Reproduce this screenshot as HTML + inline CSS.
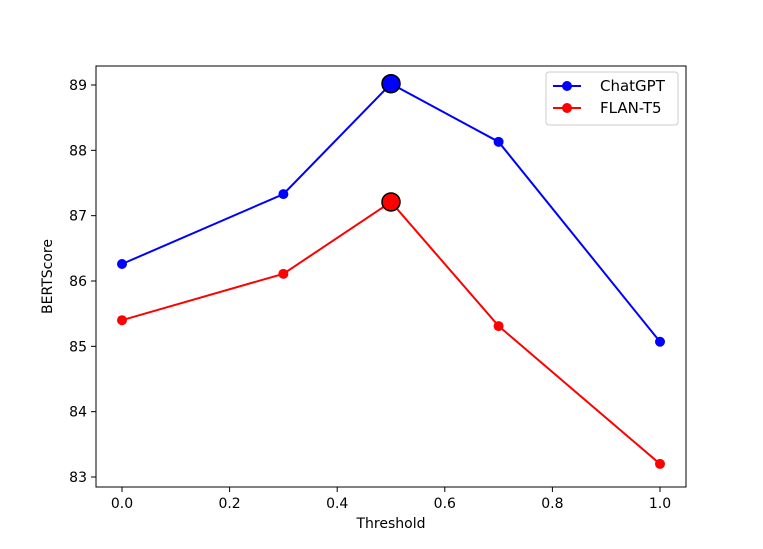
<!DOCTYPE html>
<html><head><meta charset="utf-8"><style>
body{margin:0;background:#fff;}
svg text{font-family:"DejaVu Sans","Liberation Sans",sans-serif;font-size:14px;fill:#000;}
</style></head><body>
<svg id="chart" width="763" height="544" xmlns="http://www.w3.org/2000/svg"></svg>
<script>
const thresholds=[0.0,0.3,0.5,0.7,1.0];
const chatgpt=[86.26,87.33,89.02,88.13,85.07];
const flant5=[85.40,86.11,87.21,85.31,83.20];
const xTicks=[0.0,0.2,0.4,0.6,0.8,1.0];
const yTicks=[83,84,85,86,87,88,89];
const highlightIndex=2;

const svg=document.getElementById('chart');
const NS='http://www.w3.org/2000/svg';
const L=96,R=686,T=66,B=487;
const x=v=>122+(v-0)*(660-122);
const y=v=>477-(v-83)*(477-85)/6;
function mk(t,a){const e=document.createElementNS(NS,t);for(const k in a)e.setAttribute(k,a[k]);svg.appendChild(e);return e;}

xTicks.forEach(v=>{
  const l=mk('line',{x1:x(v),x2:x(v),y1:B,y2:B+5,stroke:'#000','stroke-width':1});
  
  
  const t=mk('text',{x:x(v),y:B+21,'text-anchor':'middle'});t.textContent=v.toFixed(1);
  
  
});
yTicks.forEach(v=>{
  const l=mk('line',{x1:L-5,x2:L,y1:y(v),y2:y(v),stroke:'#000','stroke-width':1});
  
  
  const t=mk('text',{x:L-9,y:y(v)+5,'text-anchor':'end'});t.textContent=v;
  
  
});

function series(vals,color,name){
  const pts=thresholds.map((t,i)=>x(t)+','+y(vals[i])).join(' ');
  const pl=mk('polyline',{points:pts,fill:'none',stroke:color,'stroke-width':2});
  
  
  thresholds.forEach((t,i)=>{
    const hi=i===highlightIndex;
    const c=mk('circle',{cx:x(t),cy:y(vals[i]),r:hi?9:5,fill:color,stroke:hi?'#000':'none','stroke-width':hi?1.5:0});
    
    
  });
}
series(chatgpt,'#0000ff','chatgpt');
series(flant5,'#ff0000','flan-t5');

const frame=mk('rect',{x:L,y:T,width:R-L,height:B-T,fill:'none',stroke:'#000','stroke-width':1});



const xt=mk('text',{x:(L+R)/2,y:528,'text-anchor':'middle'});xt.textContent='Threshold';


const yt=mk('text',{x:52,y:(T+B)/2,'text-anchor':'middle',transform:'rotate(-90 52 '+((T+B)/2)+')'});yt.textContent='BERTScore';



const lg=mk('rect',{x:546,y:72,width:132,height:53,rx:3,fill:'#fff',stroke:'#ccc','stroke-width':1});


[['ChatGPT','#0000ff',86],['FLAN-T5','#ff0000',108]].forEach(([n,c,yy])=>{
  const l=mk('line',{x1:553,x2:581,y1:yy,y2:yy,stroke:c,'stroke-width':2});
  
  
  const d=mk('circle',{cx:567,cy:yy,r:5,fill:c});
  
  
  const t=mk('text',{x:600,y:yy+5,style:'font-size:15px'});t.textContent=n;
  
  
});
</script>
</body></html>
